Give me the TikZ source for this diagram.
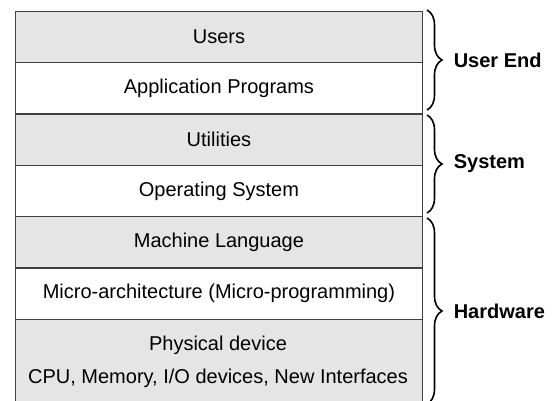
\documentclass[tikz,border=0pt]{standalone}
\usepackage{fontspec}
\setmainfont{Liberation Sans}
\usetikzlibrary{decorations.pathreplacing}
\begin{document}
\begin{tikzpicture}[x=1pt,y=-1pt,
  txt/.style={font=\fontsize{20}{24}\selectfont,inner sep=0pt},
  layer/.style={txt,draw=black!75,line width=1.4pt,minimum width=407.5pt,minimum height=51.3pt,
    anchor=north west},
  shaded/.style={layer,fill=black!10},
  plain/.style={layer,fill=white},
  grp/.style={decorate,decoration={brace,amplitude=15pt},line width=1.6pt,black},
  grplabel/.style={anchor=west,font=\fontsize{20}{24}\selectfont\bfseries,inner sep=0pt}]
  \useasboundingbox (0,0) rectangle (554,400);
  \begin{scope}
    \clip (0,0) rectangle (554,400);
    \node[shaded] (users) at (14.5,10.7) {Users};
    \node[plain]  (apps)  at (14.5,62.0) {Application Programs};
    \node[shaded] (util)  at (14.5,113.3) {Utilities};
    \node[plain]  (os)    at (14.5,164.6) {Operating System};
    \node[shaded] (ml)    at (14.5,215.9) {Machine Language};
    \node[plain]  (micro) at (14.5,267.2) {Micro-architecture (Micro-programming)};
    \node[shaded,minimum height=102.6pt] (phys) at (14.5,318.5) {};
    \node[txt] (physA) at (218,345) {Physical device};
    \node[txt] (physB) at (218,378) {CPU, Memory, I/O devices, New Interfaces};
  \end{scope}
  % group braces on the right
  \coordinate (b1t) at (427,10);
  \coordinate (b1b) at (427,110);
  \coordinate (b2t) at (427,115);
  \coordinate (b2b) at (427,213);
  \coordinate (b3t) at (427,218);
  \coordinate (b3b) at (427,404);
  \draw[grp] (b1t) -- (b1b) node[midway,xshift=26pt,grplabel] (ue) {User End};
  \draw[grp] (b2t) -- (b2b) node[midway,xshift=26pt,grplabel] (sys) {System};
  \draw[grp] (b3t) -- (b3b) node[midway,xshift=26pt,grplabel] (hw) {Hardware};
\end{tikzpicture}
\end{document}
